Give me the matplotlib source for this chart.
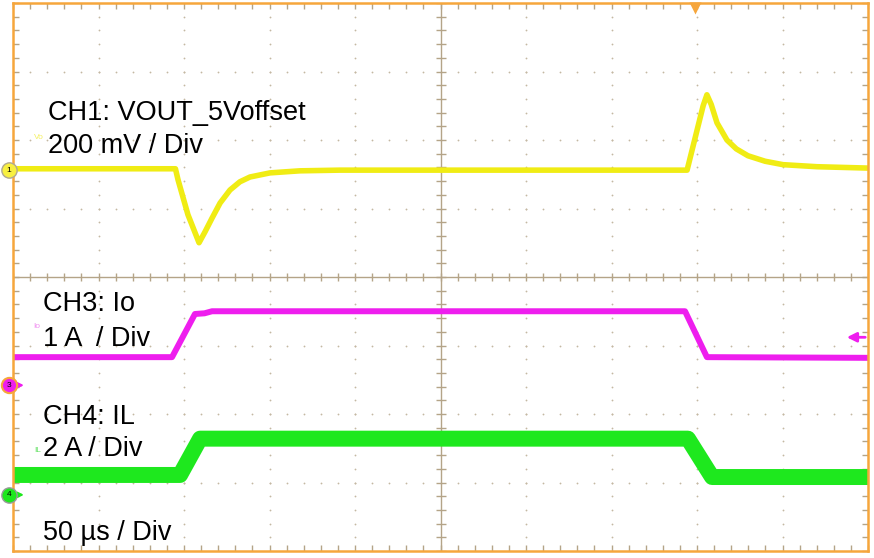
import matplotlib
matplotlib.use('Agg')
import matplotlib.pyplot as plt
import numpy as np

plt.rcParams['font.family'] = ['Liberation Sans', 'DejaVu Sans']

# time in us (50 us / div, 10 div), level in divisions (0..8)
ch1_t = [0, 95, 96.5, 102.3, 108.8, 112.3, 116.4, 121.1, 126.9, 132.7, 138.6, 150.3, 167.8, 191.2,
         394.2, 403.6, 405.8, 408.3, 411.7, 417.5, 423.0, 429.8, 439.8, 450.3, 470.2, 500]
ch1_v = [5.58, 5.58, 5.42, 4.91, 4.50, 4.66, 4.86, 5.08, 5.27, 5.39, 5.46, 5.52, 5.55, 5.56,
         5.56, 6.50, 6.66, 6.52, 6.25, 6.00, 5.87, 5.77, 5.69, 5.64, 5.61, 5.59]

ch3_t = [0, 93.0, 106.4, 112.0, 116.4, 393.0, 405.8, 500]
ch3_v = [2.83, 2.83, 3.46, 3.47, 3.50, 3.50, 2.83, 2.82]

ch4_t = [0, 97.7, 109.4, 394.7, 408.8, 500]
ch4_v = [1.11, 1.11, 1.64, 1.64, 1.08, 1.08]

labels = ['CH1: VOUT_5Voffset', '200 mV / Div', 'CH3: Io', '1 A  / Div',
          'CH4: IL', '2 A / Div', '50 \u00b5s / Div']
label_x = [20.5, 20.5, 17.5, 17.5, 17.5, 17.5, 17.5]
label_y = [6.29, 5.81, 3.50, 2.99, 1.86, 1.39, 0.16]

orange = '#F6A63C'
tan = '#B4A488'
dotc = '#C4B8A2'
yellow = '#F0EC14'
magenta = '#EE1EEE'
green = '#1EE81E'

fig = plt.figure(figsize=(8.74, 5.58), dpi=100)
ax = fig.add_axes([13/874, 7/558, 855/874, 548/558])
ax.set_xlim(0, 500)
ax.set_ylim(0, 8)

# dotted graticule
for gy in range(1, 8):
    if gy != 4:
        ax.plot(np.arange(0, 501, 10), [gy]*51, ls='none', marker='o', ms=1.3, color=dotc, mec='none')
for gx in range(50, 500, 50):
    if gx != 250:
        ax.plot([gx]*41, np.arange(0, 8.01, 0.2), ls='none', marker='o', ms=1.3, color=dotc, mec='none')

# center axes
ax.axhline(4, color=tan, lw=1)
ax.axvline(250, color=tan, lw=1)
ax.plot(np.arange(0, 501, 10), [4]*51, ls='none', marker='|', ms=6, mew=1, color=tan)
ax.plot([250]*41, np.arange(0, 8.01, 0.2), ls='none', marker='_', ms=7, mew=1, color=tan)

# traces
ax.plot(ch4_t, ch4_v, color=green, lw=11.5, solid_capstyle='butt', solid_joinstyle='round')
ax.plot(ch3_t, ch3_v, color=magenta, lw=4.3, solid_capstyle='butt', solid_joinstyle='round')
ax.plot(ch1_t, ch1_v, color=yellow, lw=4.0, solid_capstyle='butt', solid_joinstyle='round')

for s, x, y in zip(labels, label_x, label_y):
    ax.text(x, y, s, fontsize=19.5, color='black', va='baseline', ha='left')

# small channel tags
ax.text(12.0, 6.04, 'Vo', fontsize=6, color='#F4F060', va='center')
ax.text(12.0, 3.28, 'Io', fontsize=6, color='#F08CF0', va='center')
ax.text(12.5, 1.46, 'IL', fontsize=6, color='#60E060', va='center')

# channel markers on the left
ax.plot(-2.3, 5.56, 'o', ms=11, color='#F8F040', mec='#B0A890', mew=1, clip_on=False, zorder=5)
ax.text(-2.3, 5.56, '1', fontsize=6, ha='center', va='center', zorder=6)
ax.annotate('', xy=(8, 2.42), xytext=(-1, 2.42),
            arrowprops=dict(arrowstyle='-|>', color=magenta, lw=1.5, mutation_scale=8), zorder=5)
ax.plot(-2.3, 2.42, 'o', ms=11, color=magenta, mec=orange, mew=1.5, clip_on=False, zorder=5)
ax.text(-2.3, 2.42, '3', fontsize=6, ha='center', va='center', zorder=6)
ax.annotate('', xy=(8, 0.82), xytext=(-1, 0.82),
            arrowprops=dict(arrowstyle='-|>', color=green, lw=1.5, mutation_scale=8), zorder=5)
ax.plot(-2.3, 0.82, 'o', ms=11, color=green, mec='#9A9A9A', mew=1, clip_on=False, zorder=5)
ax.text(-2.3, 0.82, '4', fontsize=6, ha='center', va='center', zorder=6)

# right-side arrow and trigger marker
ax.annotate('', xy=(486, 3.12), xytext=(500, 3.12),
            arrowprops=dict(arrowstyle='-|>', color=magenta, lw=2, mutation_scale=14))
ax.plot(399, 7.93, 'v', ms=8, color=orange, mec='none', clip_on=False, zorder=6)

# frame and edge ticks
for sp in ax.spines.values():
    sp.set_color(orange)
    sp.set_linewidth(1.8)
ax.set_xticks(np.arange(0, 501, 50))
ax.set_yticks(np.arange(0, 9, 1))
ax.set_xticks(np.arange(0, 501, 10), minor=True)
ax.set_yticks(np.arange(0, 8.01, 0.2), minor=True)
ax.tick_params(which='both', direction='in', top=True, right=True, length=4, width=1,
               color=tan, labelbottom=False, labelleft=False)

fig.savefig('out.png', dpi=100)
